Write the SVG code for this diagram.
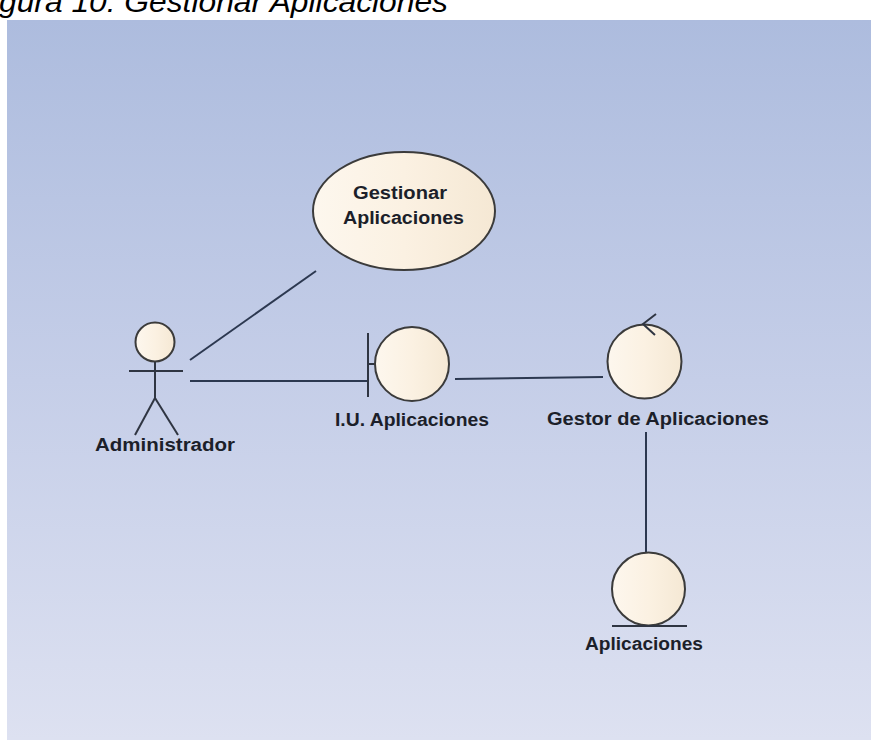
<svg xmlns="http://www.w3.org/2000/svg" width="871" height="740" viewBox="0 0 871 740">
  <defs>
    <linearGradient id="bg" x1="0" y1="0" x2="0" y2="1">
      <stop offset="0" stop-color="#adbcde"/>
      <stop offset="0.5" stop-color="#c5cee8"/>
      <stop offset="1" stop-color="#dde1f1"/>
    </linearGradient>
    <linearGradient id="cream" x1="0" y1="0" x2="1" y2="0">
      <stop offset="0" stop-color="#fdf7ee"/>
      <stop offset="0.5" stop-color="#fbf1e2"/>
      <stop offset="1" stop-color="#f5e8d4"/>
    </linearGradient>
    <style>
      .shape { fill: url(#cream); stroke: #3b3b3b; stroke-width: 2; }
      .stick { fill: none; stroke: #2f3542; stroke-width: 2; }
      .conn { fill: none; stroke: #2c3850; stroke-width: 2; }
      .label { font-family: "Liberation Sans", Arial, sans-serif; font-weight: bold; font-size: 18px; fill: #1c1f2a; text-anchor: middle; }
      .title { font-family: "Liberation Sans", Arial, sans-serif; font-style: italic; font-size: 30px; fill: #000; }
    </style>
  </defs>

  <rect x="0" y="0" width="871" height="740" fill="#ffffff"/>
  <text class="title" x="-1" y="12" textLength="449" lengthAdjust="spacingAndGlyphs">gura 10: Gestionar Aplicaciones</text>

  <!-- diagram canvas -->
  <rect x="7" y="20" width="864" height="720" fill="url(#bg)"/>

  <!-- connectors -->
  <g id="connectors">
    <line class="conn" x1="190" y1="360" x2="316" y2="271"/>
    <line class="conn" x1="190" y1="381" x2="368" y2="381"/>
    <line class="conn" x1="455" y1="379" x2="603" y2="377"/>
    <line class="conn" x1="646" y1="432" x2="646" y2="553"/>
  </g>

  <!-- actor -->
  <g id="administrador">
    <circle class="shape" cx="155" cy="342" r="19.5"/>
    <line class="stick" x1="155" y1="362" x2="155" y2="398"/>
    <line class="stick" x1="129" y1="371" x2="183" y2="371"/>
    <line class="stick" x1="155" y1="398" x2="135" y2="435"/>
    <line class="stick" x1="155" y1="398" x2="178" y2="435"/>
    <text class="label" x="165" y="451" textLength="140" lengthAdjust="spacingAndGlyphs">Administrador</text>
  </g>

  <!-- use case -->
  <g id="gestionar-aplicaciones">
    <ellipse class="shape" cx="404" cy="211" rx="91" ry="59"/>
    <text class="label" x="400" y="199" textLength="94" lengthAdjust="spacingAndGlyphs">Gestionar</text>
    <text class="label" x="403.5" y="224" textLength="121" lengthAdjust="spacingAndGlyphs">Aplicaciones</text>
  </g>

  <!-- boundary -->
  <g id="iu-aplicaciones">
    <line class="stick" x1="368" y1="333" x2="368" y2="397"/>
    <line class="stick" x1="368" y1="364" x2="375" y2="364"/>
    <circle class="shape" cx="412" cy="364" r="37"/>
    <text class="label" x="412" y="426" textLength="154" lengthAdjust="spacingAndGlyphs">I.U. Aplicaciones</text>
  </g>

  <!-- control -->
  <g id="gestor-aplicaciones">
    <circle class="shape" cx="644.5" cy="361.5" r="37"/>
    <polyline class="stick" points="656,314 643,324 655,335"/>
    <text class="label" x="658" y="425" textLength="222" lengthAdjust="spacingAndGlyphs">Gestor de Aplicaciones</text>
  </g>

  <!-- entity -->
  <g id="aplicaciones">
    <circle class="shape" cx="648.5" cy="589" r="36.5"/>
    <line class="stick" x1="612" y1="626" x2="687" y2="626"/>
    <text class="label" x="644" y="650" textLength="118" lengthAdjust="spacingAndGlyphs">Aplicaciones</text>
  </g>
</svg>
